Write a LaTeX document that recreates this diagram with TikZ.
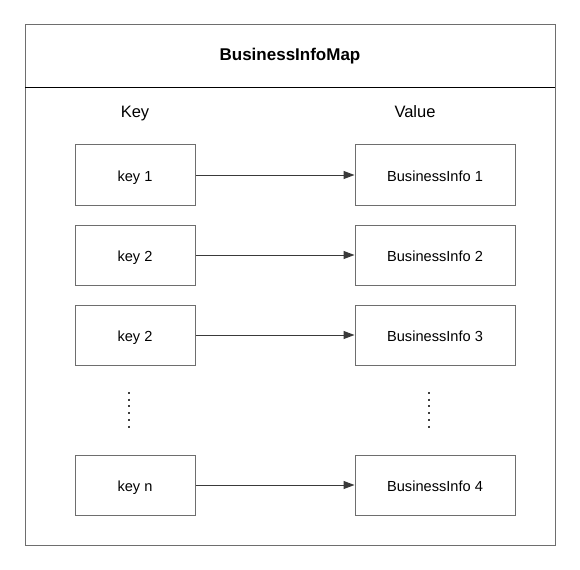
\documentclass[tikz,border=0pt]{standalone}
\usepackage{fontspec}
\setmainfont{Liberation Sans}
\usetikzlibrary{arrows.meta}
\definecolor{boxgray}{HTML}{6E6E6E}
\definecolor{linkgray}{HTML}{3A3A3A}
\begin{document}
\begin{tikzpicture}[x=1bp,y=-1bp,
  cell/.style={draw=boxgray,line width=1bp,minimum width=120bp,minimum height=60bp,inner sep=0pt,text height=16bp,text depth=3bp,font=\fontsize{14.6bp}{16bp}\selectfont},
  vcell/.style={cell,minimum width=160bp},
  link/.style={draw=linkgray,line width=1bp,-{Triangle[length=11bp,width=8bp]}},
  vdots/.style={draw=black!75,line width=2bp,dash pattern=on 2bp off 4.7bp},
  hdr/.style={font=\fontsize{16.5bp}{18bp}\selectfont,text height=17bp,text depth=3bp,inner sep=0pt}]
\useasboundingbox (0,0) rectangle (580,570);
\draw[boxgray,line width=1bp] (25,25) rectangle (555,545);
\draw[black,line width=1bp] (25,88) -- (555,88);
\node[font=\bfseries\fontsize{17bp}{20bp}\selectfont] (title) at (290,56) {BusinessInfoMap};
\node[hdr] (khdr) at (135,111) {Key};
\node[hdr] (vhdr) at (415,111) {Value};
\node[cell] (k1) at (135,175) {key 1};
\node[cell] (k2) at (135,255) {key 2};
\node[cell] (k3) at (135,335) {key 2};
\node[cell] (kn) at (135,485) {key n};
\node[vcell] (v1) at (435,175) {BusinessInfo 1};
\node[vcell] (v2) at (435,255) {BusinessInfo 2};
\node[vcell] (v3) at (435,335) {BusinessInfo 3};
\node[vcell] (v4) at (435,485) {BusinessInfo 4};
\draw[link] (k1) -- (v1);
\draw[link] (k2) -- (v2);
\draw[link] (k3) -- (v3);
\draw[link] (kn) -- (v4);
\coordinate (ld1) at (129,392);
\coordinate (ld2) at (129,429);
\coordinate (rd1) at (429,392);
\coordinate (rd2) at (429,429);
\draw[vdots] (ld1) -- (ld2);
\draw[vdots] (rd1) -- (rd2);
\end{tikzpicture}
\end{document}
